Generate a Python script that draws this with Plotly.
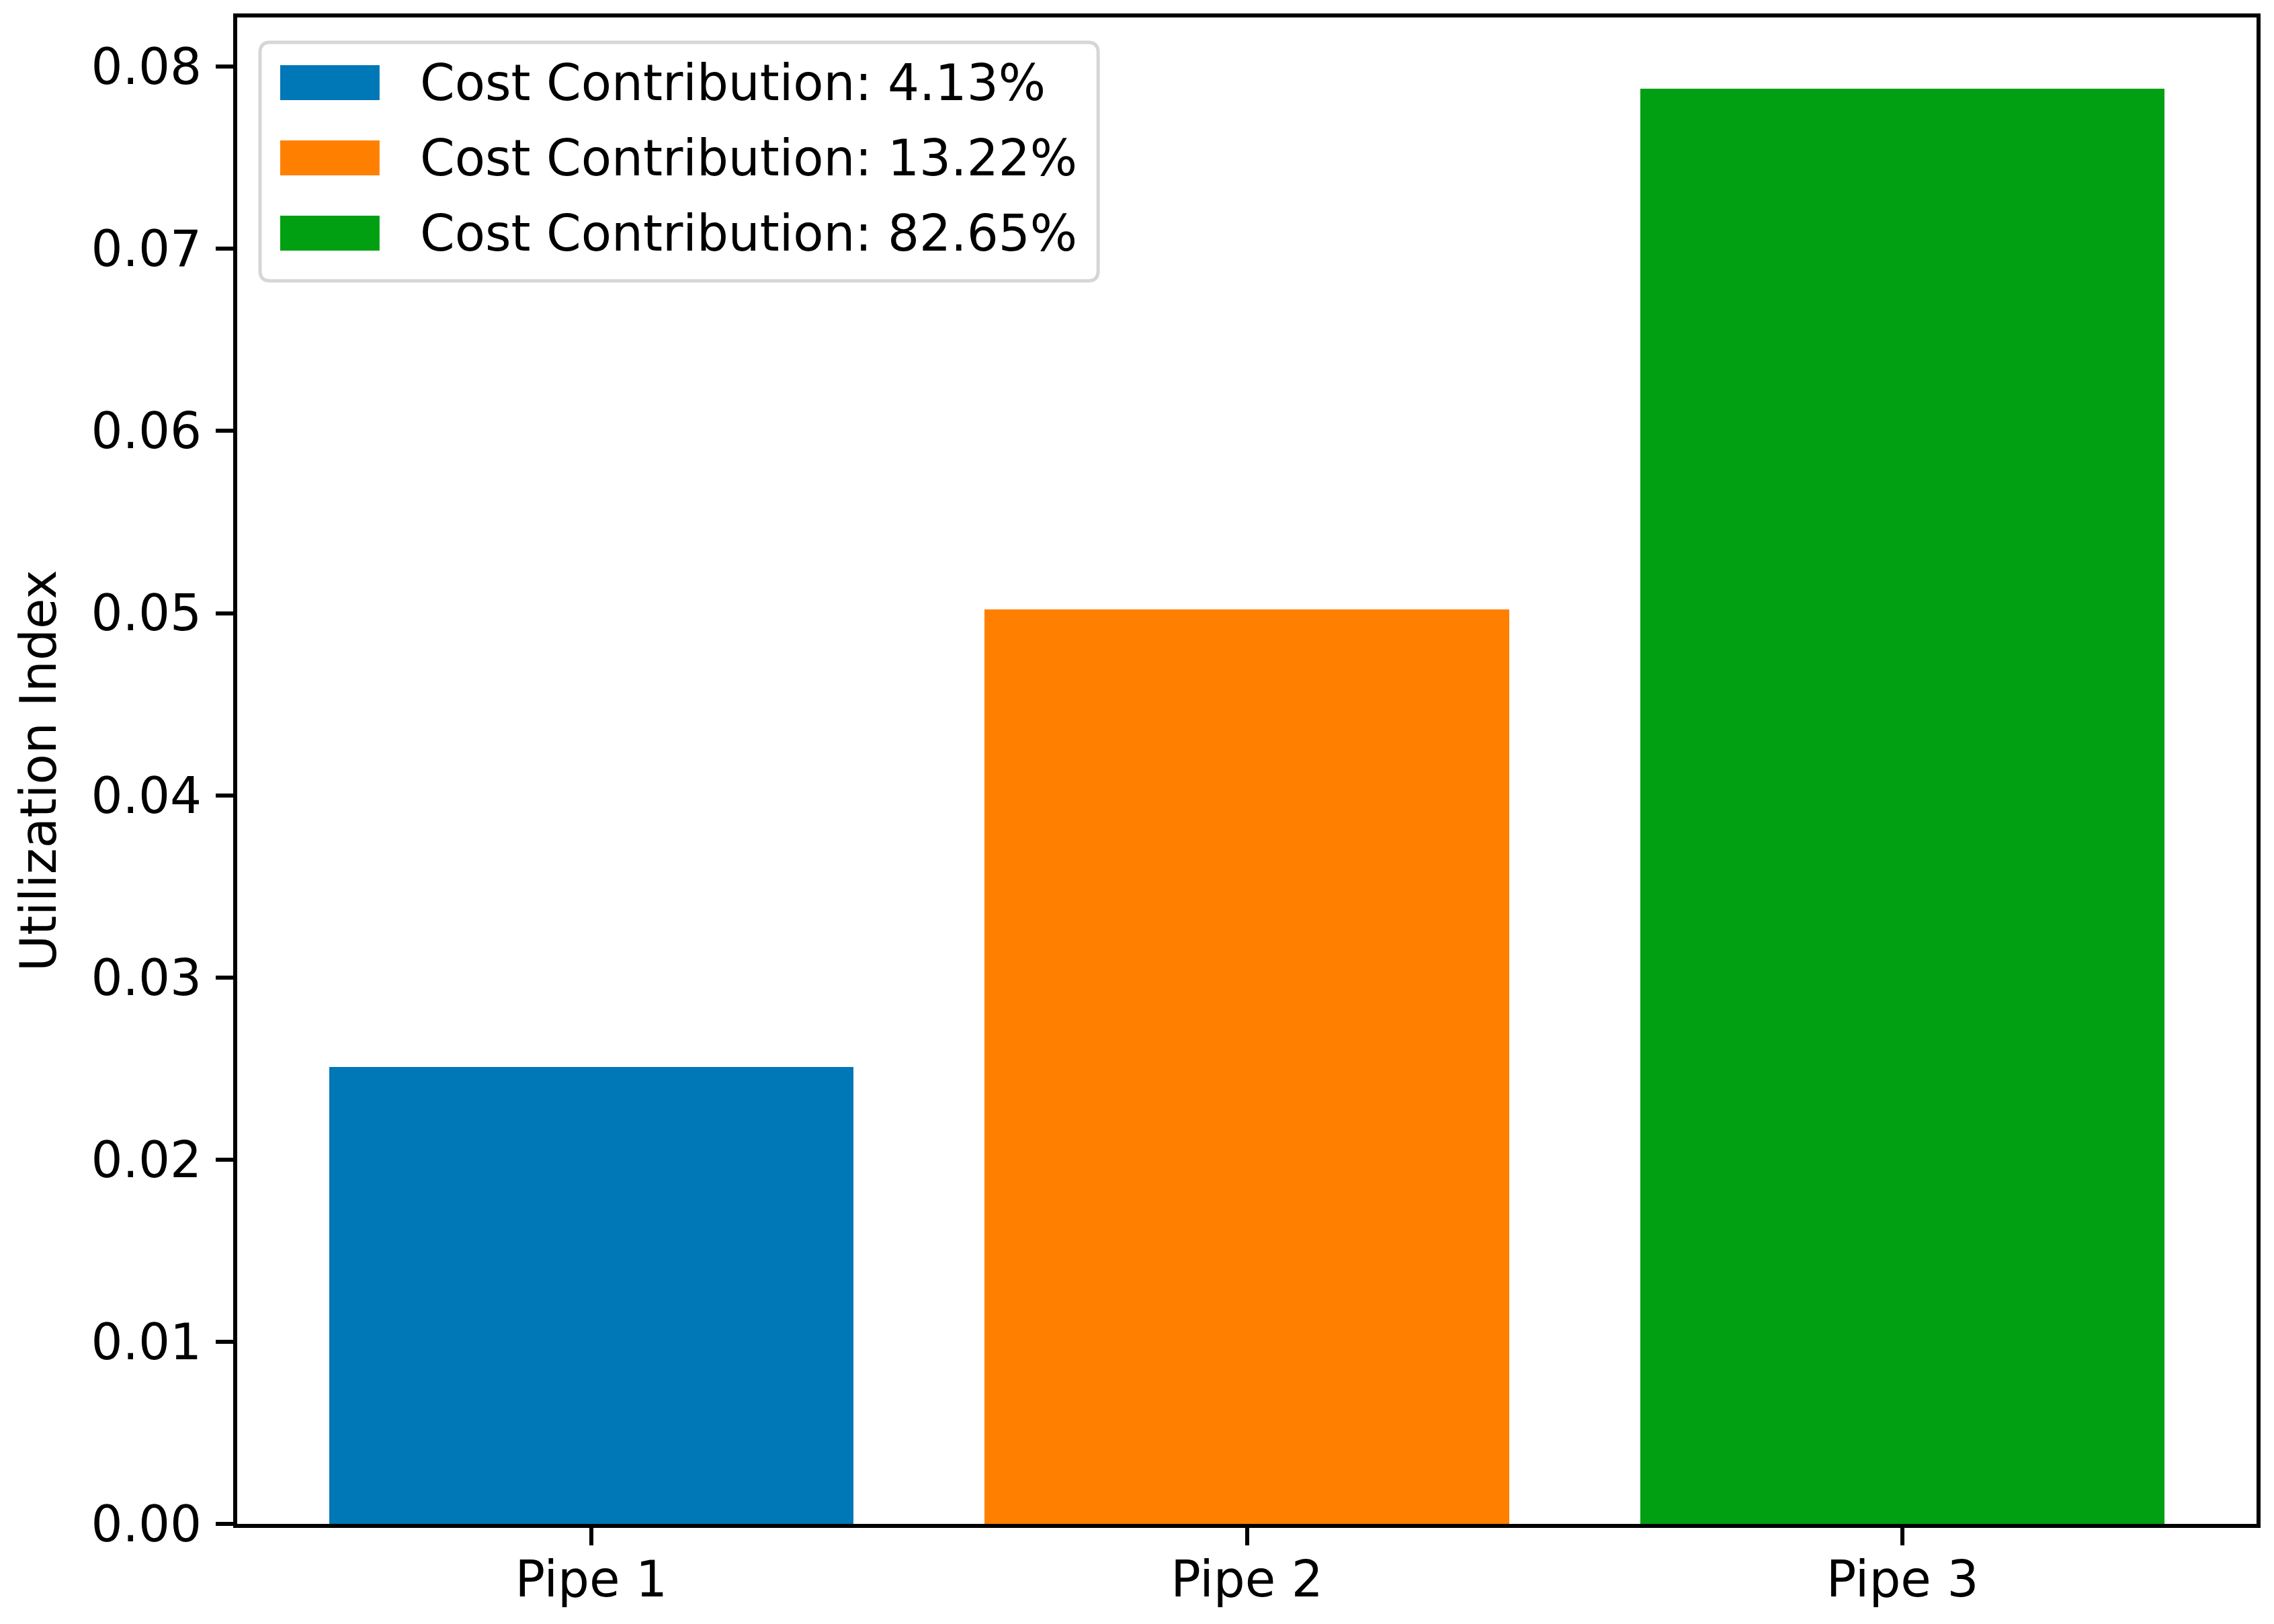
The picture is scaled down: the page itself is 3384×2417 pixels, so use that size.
import plotly.graph_objects as go

categories = ["Pipe 1", "Pipe 2", "Pipe 3"]
utilization = [0.0251, 0.0502, 0.0788]
cost_contribution = [4.13, 13.22, 82.65]
colors = ["#0077B6", "#FF8000", "#00A012"]
y_ticks = [0.00, 0.01, 0.02, 0.03, 0.04, 0.05, 0.06, 0.07, 0.08]

OFF = 8  # page body offset
W, H = 3384, 2417
ML, MR, MT, MB = 353, 24, 26, 149
PW, PH = W - ML - MR, H - MT - MB
FONT = "DejaVu Sans"
FS = 74


def px_x(px):
    return (px - ML) / PW


def px_y(py):
    return (H - MB - py) / PH


fig = go.Figure()
for i, (cat, val, pct, col) in enumerate(zip(categories, utilization, cost_contribution, colors)):
    fig.add_trace(go.Bar(
        x=[i], y=[val], width=0.8, marker=dict(color=col, line=dict(width=0)),
        name=f"Cost Contribution: {pct:.2f}%", showlegend=False,
    ))

# Manual legend (matplotlib-like large swatches with rounded frame)
x0, x1, y0, y1 = px_x(387), px_x(1635), px_y(63), px_y(418)
r = 15
rx, ry = r / PW, r / PH
path = (f"M {x0+rx},{y0} L {x1-rx},{y0} Q {x1},{y0} {x1},{y0-ry} "
        f"L {x1},{y1+ry} Q {x1},{y1} {x1-rx},{y1} L {x0+rx},{y1} "
        f"Q {x0},{y1} {x0},{y1+ry} L {x0},{y0-ry} Q {x0},{y0} {x0+rx},{y0} Z")
fig.add_shape(type="path", path=path, xref="paper", yref="paper",
              fillcolor="rgba(255,255,255,0.8)", line=dict(color="#d6d6d6", width=5))
centers = [123, 235, 347]
for pct, col, cy in zip(cost_contribution, colors, centers):
    fig.add_shape(type="rect", xref="paper", yref="paper",
                  x0=px_x(417), x1=px_x(565), y0=px_y(cy - 26), y1=px_y(cy + 26),
                  fillcolor=col, line=dict(width=0))
    fig.add_annotation(xref="paper", yref="paper", x=px_x(623), y=px_y(cy),
                       xanchor="left", yanchor="middle", showarrow=False,
                       text=f"Cost Contribution: {pct:.2f}%",
                       font=dict(family=FONT, size=FS, color="black"))

fig.update_layout(
    width=W - 2 * OFF, height=H - 2 * OFF,
    margin=dict(l=ML - OFF, r=MR - OFF, t=MT - OFF, b=MB - OFF, pad=0),
    plot_bgcolor="white", paper_bgcolor="white",
    font=dict(family=FONT, size=FS, color="black"),
    bargap=0,
    showlegend=False,
)
fig.update_xaxes(
    range=[-0.54, 2.54], tickmode="array", tickvals=list(range(len(categories))),
    ticktext=categories, showgrid=False, zeroline=False,
    showline=True, linecolor="black", linewidth=6, mirror=True,
    ticks="outside", ticklen=26, tickwidth=6, tickcolor="black",
    tickfont=dict(family=FONT, size=FS, color="black"),
    ticklabelstandoff=-13,
)
fig.update_yaxes(
    range=[0, 0.0827], tickmode="array", tickvals=y_ticks,
    ticktext=[f"{v:.2f}" for v in y_ticks], showgrid=False, zeroline=False,
    showline=True, linecolor="black", linewidth=6, mirror=True,
    ticks="outside", ticklen=26, tickwidth=6, tickcolor="black",
    tickfont=dict(family=FONT, size=FS, color="black"),
    ticklabelstandoff=6,
    title=dict(text="Utilization Index", font=dict(family=FONT, size=FS, color="black"), standoff=30),
)

fig.write_html("out.html")
